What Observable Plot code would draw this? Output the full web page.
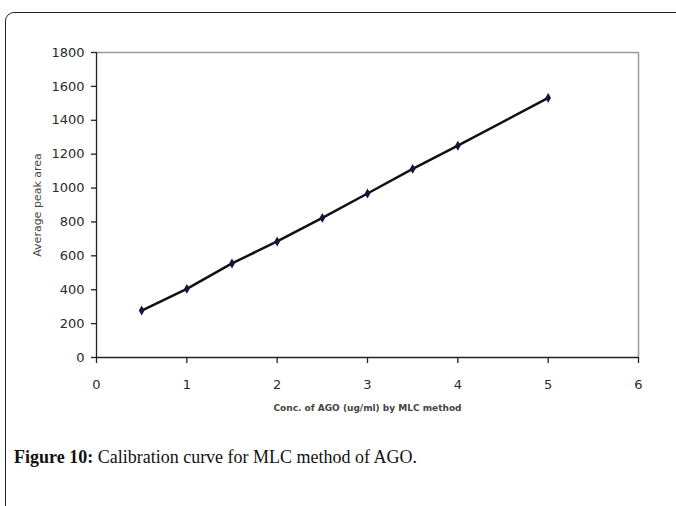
<!DOCTYPE html>
<html>
<head>
<meta charset="utf-8">
<script src="https://cdn.jsdelivr.net/npm/d3@7"></script>
<script src="https://cdn.jsdelivr.net/npm/@observablehq/plot@0.6"></script>
<style>
  html, body { margin: 0; padding: 0; background: #fff; width: 676px; height: 506px; overflow: hidden; }
  #frame { position: absolute; left: 5px; top: 12px; width: 720px; height: 560px; border: 1.5px solid #222; border-radius: 9px; box-sizing: border-box; }
  #chart { position: absolute; left: 0; top: 0; }
  #caption { position: absolute; left: 14px; top: 447px; font-family: "Liberation Serif", serif; font-size: 18px; color: #111; white-space: nowrap; }
  #caption b { font-weight: bold; }
</style>
</head>
<body>
<div id="frame"></div>
<div id="chart"></div>
<div id="caption"><b>Figure 10:</b> Calibration curve for MLC method of AGO.</div>
<script>
const conc = [0.5, 1, 1.5, 2, 2.5, 3, 3.5, 4, 5];
const peakArea = [277, 405, 555, 685, 824, 968, 1113, 1250, 1532];
const xTicks = [0, 1, 2, 3, 4, 5, 6];
const yTicks = [0, 200, 400, 600, 800, 1000, 1200, 1400, 1600, 1800];
const xTitle = "Conc. of AGO (ug/ml) by MLC method";
const yTitle = "Average peak area";

const data = conc.map((c, i) => ({x: c, y: peakArea[i]}));

const chart = Plot.plot({
  width: 676,
  height: 420,
  marginLeft: 96,
  marginRight: 38,
  marginTop: 52,
  marginBottom: 63,
  style: {fontFamily: "DejaVu Sans", background: "transparent"},
  x: {domain: [0, 6]},
  y: {domain: [0, 1800]},
  marks: [
    Plot.ruleY([1800], {stroke: "#9a9a9a", strokeWidth: 1.5}),
    Plot.ruleX([6], {stroke: "#9a9a9a", strokeWidth: 1.5}),
    Plot.axisX({ticks: xTicks, tickSize: 6, tickPadding: 16, tickFormat: d => String(d), fontSize: 13, fill: "#2a2a2a", stroke: "#222", strokeWidth: 1.3, label: null}),
    Plot.axisY({ticks: yTicks, tickSize: 5, tickPadding: 7, tickFormat: d => String(d), fontSize: 13, fill: "#2a2a2a", stroke: "#222", strokeWidth: 1.3, label: null}),
    Plot.axisY({ticks: [], tickSize: 0, label: yTitle, labelAnchor: "center", labelOffset: 63, labelArrow: false, fontSize: 11, fill: "#444"}),
    Plot.ruleY([0], {stroke: "#222", strokeWidth: 1.3}),
    Plot.ruleX([0], {stroke: "#222", strokeWidth: 1.3}),
    Plot.line(data, {x: "x", y: "y", stroke: "#111", strokeWidth: 2.5}),
    Plot.dot(data, {x: "x", y: "y", symbol: "diamond", r: 3, fill: "#14143c", stroke: "none"}),
    Plot.text([xTitle], {frameAnchor: "bottom", dy: 53, fontSize: 9, fontWeight: "bold", fill: "#444"})
  ]
});
document.getElementById("chart").appendChild(chart);
</script>
</body>
</html>
